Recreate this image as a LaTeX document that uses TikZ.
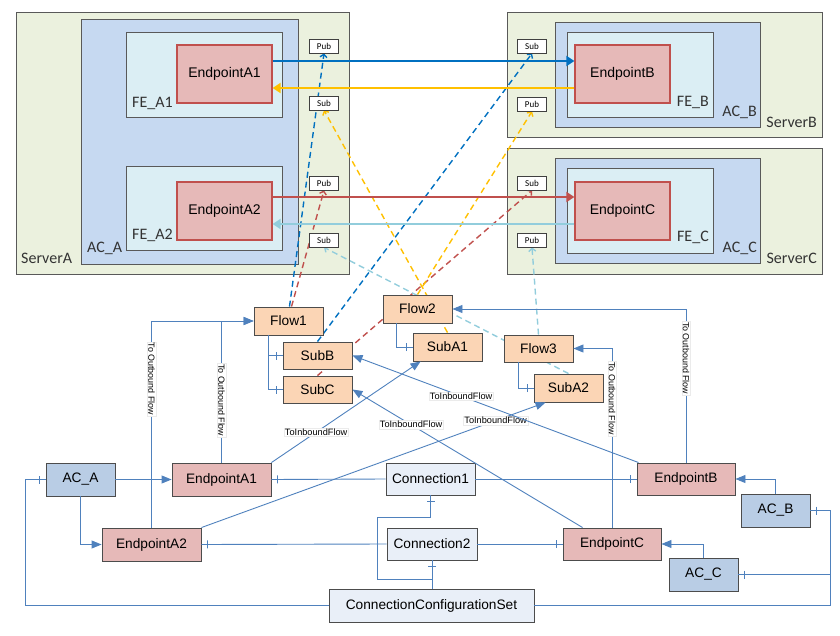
\documentclass[tikz,border=0pt]{standalone}
\usepackage{fontspec}
\setmainfont{Liberation Sans}
\newfontfamily\calibfont{Carlito}
\usepackage{tikz}
\usepackage{xcolor}
\usetikzlibrary{positioning, arrows.meta, decorations.markings}

\definecolor{srvgreen}{HTML}{EBF1DE}
\definecolor{acblue}{HTML}{C6D9F1}
\definecolor{feblue}{HTML}{DBEEF4}
\definecolor{eppink}{HTML}{E6B9B8}
\definecolor{epred}{HTML}{C0504D}
\definecolor{flowpeach}{HTML}{FBD5B5}
\definecolor{acgray}{HTML}{B9CDE5}
\definecolor{connfill}{HTML}{E9EFF8}
\definecolor{linkblue}{HTML}{4F81BD}
\definecolor{msblue}{HTML}{0070C0}
\definecolor{msorange}{HTML}{FFC000}
\definecolor{lblue}{HTML}{92CDDC}
\definecolor{framegray}{HTML}{595959}

\pgfdeclarelayer{frames}
\pgfdeclarelayer{links}
\pgfsetlayers{frames,links,main}

\begin{document}
\begin{tikzpicture}[x=1pt, y=-1pt, >=stealth,
    frame/.style={draw=framegray, line width=0.9pt, anchor=north west, inner sep=0pt, outer sep=0pt},
    srvbox/.style={frame, fill=srvgreen},
    acbox/.style={frame, fill=acblue},
    febox/.style={frame, fill=feblue},
    tag/.style={font=\calibfont\fontsize{16}{17}\selectfont, inner sep=0pt, text=black!80},
    topep/.style={draw=epred, line width=1.3pt, fill=eppink, minimum width=95pt, minimum height=58pt, inner sep=0pt, font=\fontsize{14}{16}\selectfont},
    ps/.style={draw=black!75, line width=0.8pt, fill=white, minimum width=29pt, minimum height=14pt, inner sep=0pt, font=\calibfont\fontsize{9}{10}\selectfont},
    wire/.style={line width=2.6pt, -{Triangle[length=8pt,width=10pt]}},
    dlink/.style={line width=1.4pt, dash pattern=on 6pt off 4pt, -{Straight Barb[length=3pt,width=7pt]}},
    box/.style={draw=black!70, line width=0.9pt, inner sep=0pt, minimum height=33pt, font=\fontsize{13.7}{15}\selectfont},
    flowbox/.style={box, fill=flowpeach, minimum width=69pt, minimum height=28pt},
    epbox/.style={box, fill=eppink, minimum width=99pt},
    acnode/.style={box, fill=acgray, minimum width=69pt},
    connbox/.style={box, fill=connfill, minimum width=90pt},
    link/.style={draw=linkblue, line width=0.9pt},
    linkto/.style={link, -{Triangle[length=10pt,width=8pt]}},
    tickend/.style={link, postaction={decorate}, decoration={markings, mark=at position 1 with {\draw[linkblue, line width=0.8pt] (-6pt,-4pt) -- (-6pt,4pt);}}},
    outlbl/.style={fill=white, draw=black!8, line width=0.3pt, inner sep=1pt, font=\fontsize{8.9}{9}\selectfont},
    inlbl/.style={outlbl, font=\fontsize{9.2}{10}\selectfont}]
    \useasboundingbox (0,0) rectangle (840,636);

    % Servers, application containers and front ends
    \begin{pgfonlayer}{frames}
        \node[srvbox, minimum width=333pt, minimum height=262pt] (srvA) at (16,12) {};
        \node[acbox, minimum width=217pt, minimum height=245pt] (acTopA) at (81,19) {};
        \node[febox, minimum width=156pt, minimum height=85pt] (feA1) at (126,32) {};
        \node[febox, minimum width=156pt, minimum height=84pt] (feA2) at (126,166) {};
        \node[srvbox, minimum width=315pt, minimum height=125pt] (srvB) at (507,12) {};
        \node[acbox, minimum width=205pt, minimum height=105pt] (acTopB) at (555,22) {};
        \node[febox, minimum width=146pt, minimum height=85pt] (feB) at (567,32) {};
        \node[srvbox, minimum width=315pt, minimum height=126pt] (srvC) at (507,148) {};
        \node[acbox, minimum width=205pt, minimum height=105pt] (acTopC) at (555,158) {};
        \node[febox, minimum width=146pt, minimum height=85pt] (feC) at (567,168) {};
    \end{pgfonlayer}

    \node[tag, anchor=base west] (lSrvA) at (21,263) {ServerA};
    \node[tag, anchor=base west] (lAcA) at (87,253) {AC\_A};
    \node[tag, anchor=base west] (lFeA1) at (132,108) {FE\_A1};
    \node[tag, anchor=base west] (lFeA2) at (132,240) {FE\_A2};
    \node[tag, anchor=base east] (lSrvB) at (817,128) {ServerB};
    \node[tag, anchor=base east] (lAcB) at (757,117) {AC\_B};
    \node[tag, anchor=base east] (lFeB) at (709,107) {FE\_B};
    \node[tag, anchor=base east] (lSrvC) at (817,264) {ServerC};
    \node[tag, anchor=base east] (lAcC) at (757,252) {AC\_C};
    \node[tag, anchor=base east] (lFeC) at (709,242) {FE\_C};

    % Endpoints on the servers
    \node[topep] (tA1) at (224.5,74) {EndpointA1};
    \node[topep] (tA2) at (224.5,211) {EndpointA2};
    \node[topep] (tB) at (622.5,74) {EndpointB};
    \node[topep] (tC) at (622.5,211) {EndpointC};

    % Pub / Sub points
    \node[ps] (pA1) at (324,46) {Pub};
    \node[ps] (sA1) at (324,103) {Sub};
    \node[ps] (pA2) at (324,183) {Pub};
    \node[ps] (sA2) at (324,240) {Sub};
    \node[ps] (sB) at (532,46) {Sub};
    \node[ps] (pB) at (532,104) {Pub};
    \node[ps] (sC) at (532,183) {Sub};
    \node[ps] (pC) at (532,240) {Pub};

    % Traffic between the endpoints
    \draw[wire, msblue] ([yshift=13pt]tA1.east) -- ([yshift=13pt]tB.west);
    \draw[wire, msorange] ([yshift=-14pt]tB.west) -- ([yshift=-14pt]tA1.east);
    \draw[wire, epred] ([yshift=14pt]tA2.east) -- ([yshift=14pt]tC.west);
    \draw[wire, lblue] ([yshift=-13pt]tC.west) -- ([yshift=-13pt]tA2.east);

    % Flows and subscriptions
    \node[flowbox] (flow1) at (288.5,321) {Flow1};
    \node[flowbox, minimum height=27pt] (subB) at (317.5,355.5) {SubB};
    \node[flowbox, minimum height=27pt] (subC) at (317.5,389.5) {SubC};
    \node[flowbox] (flow2) at (417.5,309) {Flow2};
    \node[flowbox] (subA1) at (447.5,347) {SubA1};
    \node[flowbox, minimum height=27pt] (flow3) at (538.5,348.5) {Flow3};
    \node[flowbox] (subA2) at (568.5,388) {SubA2};

    % Flows bound to pub / sub points
    \begin{pgfonlayer}{links}
        \draw[dlink, msblue] ([xshift=1pt]flow1.north) -- (pA1.south);
        \draw[dlink, epred] ([xshift=3pt]flow1.north) -- (pA2.south);
        \draw[dlink, msblue] (subB.north) -- (sB.south);
        \draw[dlink, epred] (subC.north) -- (sC.south);
        \draw[dlink, msorange] (subA1.north) -- (sA1.south);
        \draw[dlink, msorange] (flow2.north) -- (pB.south);
        \draw[dlink, lblue] (flow3.north) -- (pC.south);
        \draw[dlink, lblue] (subA2.north) -- (sA2.south);
    \end{pgfonlayer}

    % Configuration objects
    \node[acnode] (acA) at (80.5,479.5) {AC\_A};
    \node[epbox] (epA1) at (221.5,479.5) {EndpointA1};
    \node[epbox] (epA2) at (151.5,544.5) {EndpointA2};
    \node[connbox, minimum width=89pt, minimum height=32pt] (conn1) at (430.5,479) {Connection1};
    \node[connbox, minimum height=32pt] (conn2) at (432,544) {Connection2};
    \node[connbox, minimum width=205pt] (ccs) at (431.5,605.5) {ConnectionConfigurationSet};
    \node[epbox, minimum width=98pt, minimum height=32pt] (epB) at (686,479) {EndpointB};
    \node[acnode] (acB) at (775.5,510.5) {AC\_B};
    \node[epbox, minimum width=98pt, minimum height=32pt] (epC) at (612,544) {EndpointC};
    \node[acnode] (acC) at (703.5,574.5) {AC\_C};

    % Containers to endpoints
    \draw[linkto] (acA) -- (epA1);
    \draw[linkto] (acA.south) |- (epA2.west);
    \draw[linkto] (acB.north) |- (epB.east);
    \draw[linkto] (acC.north) |- (epC.east);

    % Outbound flows
    \draw[linkto] (epA1.north) |- node[outlbl, rotate=-90, pos=0.22] (lOut1) {To Outbound Flow} (flow1.west);
    \draw[linkto] (epA2.north) |- node[outlbl, rotate=-90, pos=0.36] (lOut2) {To Outbound Flow} (flow1.west);
    \draw[linkto] (epB.north) |- node[outlbl, rotate=-90, pos=0.34] (lOut3) {To Outbound Flow} (flow2.east);
    \draw[linkto] (epC.north) |- node[outlbl, rotate=-90, pos=0.36] (lOut4) {To Outbound Flow} (flow3.east);

    % Flow to its subscriptions
    \draw[tickend] ([xshift=15pt]flow1.south west) |- (subB.west);
    \draw[tickend] ([xshift=15pt]flow1.south west) |- (subC.west);
    \draw[tickend] ([xshift=14pt]flow2.south west) |- (subA1.west);
    \draw[tickend] ([xshift=15pt]flow3.south west) |- (subA2.west);

    % Inbound flows
    \draw[linkto] (epA1.north east) -- node[inlbl, pos=0.3] (lIn1) {ToInboundFlow} ([xshift=8pt]subA1.south west);
    \draw[linkto] (epA2.north east) -- node[inlbl, pos=0.855] (lIn2) {ToInboundFlow} ([xshift=12pt]subA2.south west);
    \draw[linkto] ([xshift=2pt]epB.north west) -- node[inlbl, pos=0.62] (lIn3) {ToInboundFlow} (subB.east);
    \draw[linkto] ([xshift=20pt]epC.north west) -- node[inlbl, pos=0.745] (lIn4) {ToInboundFlow} (subC.east);

    % Connections
    \draw[tickend] (conn1.west) -- (epA1.east);
    \draw[tickend] (conn1.east) -- (epB.west);
    \draw[tickend] (conn2.west) -- (epA2.east);
    \draw[tickend] (conn2.east) -- (epC.west);

    % Configuration set
    \draw[tickend] (conn2.south |- ccs.north) -- (conn2.south);
    \draw[tickend] (conn2.south |- ccs.north) -- (432,579) -- (377,579) -- (377,517) -- (430.5,517) -- (conn1.south);
    \coordinate (lbus) at ([xshift=-20pt]acA.west);
    \coordinate (rbus) at ([xshift=20pt]acB.east);
    \draw[tickend] (ccs.west) -| (lbus) -- (acA.west);
    \draw[tickend] (ccs.east) -| (rbus) -- (acB.east);
    \draw[tickend] (rbus |- acC.east) -- (acC.east);
\end{tikzpicture}
\end{document}
